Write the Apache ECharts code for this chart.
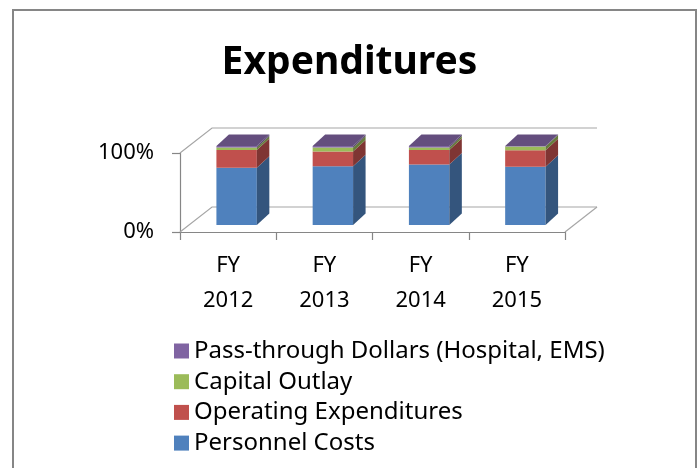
<!DOCTYPE html>
<html>
<head>
<meta charset="utf-8">
<script src="https://cdn.jsdelivr.net/npm/echarts@6/dist/echarts.min.js"></script>
<style>
  html, body { margin: 0; padding: 0; background: #fff; }
  #chart { width: 699px; height: 468px; }
</style>
</head>
<body>
<div id="chart"></div>
<script>
const categories = ['FY\n2012', 'FY\n2013', 'FY\n2014', 'FY\n2015']
const personnelCosts = [72.5, 74.5, 76.5, 73.7]
const operatingExpenditures = [22.4, 18.5, 18.4, 20.8]
const capitalOutlay = [3.1, 5.0, 3.1, 5.0]
const passThroughDollars = [2.0, 2.0, 2.0, 0.5]
const yTicks = [0, 100]

const seriesList = [
  { name: 'Personnel Costs', values: personnelCosts, color: '#4F81BD' },
  { name: 'Operating Expenditures', values: operatingExpenditures, color: '#C0504D' },
  { name: 'Capital Outlay', values: capitalOutlay, color: '#9BBB59' },
  { name: 'Pass-through Dollars (Hospital, EMS)', values: passThroughDollars, color: '#8064A2' }
]

// wall depth, bar placement inside the box, bar depth
const WALL_DX = 32, WALL_DY = -25
const BAR_SHIFT_X = 8.5, BAR_SHIFT_Y = -7
const BAR_DX = 12.5, BAR_DY = -11.5
const FONT = "'Noto Sans', sans-serif"

const shade = (hex, k) => {
  const n = parseInt(hex.slice(1), 16)
  const c = [n >> 16, (n >> 8) & 255, n & 255].map(v => Math.round(v * k))
  return `rgb(${c.join(',')})`
}

const segmentRenderer = (color, isTop) => (params, api) => {
  const i = api.value(0)
  const lo = api.coord([i, api.value(1)])
  const hi = api.coord([i, api.value(2)])
  const bw = api.size([1, 0])[0] * 0.42
  const x0 = lo[0] - bw / 2 + BAR_SHIFT_X
  const x1 = x0 + bw
  const yb = lo[1] + BAR_SHIFT_Y
  const yt = hi[1] + BAR_SHIFT_Y
  const children = [
    { type: 'rect', shape: { x: x0, y: yt, width: bw, height: yb - yt }, style: { fill: color } },
    {
      type: 'polygon',
      shape: { points: [[x1, yt], [x1 + BAR_DX, yt + BAR_DY], [x1 + BAR_DX, yb + BAR_DY], [x1, yb]] },
      style: { fill: shade(color, 0.66) }
    }
  ]
  if (isTop) {
    children.push({
      type: 'polygon',
      shape: { points: [[x0, yt], [x0 + BAR_DX, yt + BAR_DY], [x1 + BAR_DX, yt + BAR_DY], [x1, yt]] },
      style: { fill: shade(color, 0.78) }
    })
  }
  return { type: 'group', children }
}

const wallRenderer = (params, api) => {
  const v = api.value(1)
  const y = api.coord([0, v])[1]
  const cs = params.coordSys
  const children = [{
    type: 'polyline',
    shape: { points: [[cs.x, y], [cs.x + WALL_DX, y + WALL_DY], [cs.x + cs.width + WALL_DX, y + WALL_DY]] },
    style: { stroke: '#A6A6A6', lineWidth: 1.2, fill: null }
  }]
  if (v === 0) {
    children.push({
      type: 'line',
      shape: { x1: cs.x + cs.width, y1: y, x2: cs.x + cs.width + WALL_DX, y2: y + WALL_DY },
      style: { stroke: '#A6A6A6', lineWidth: 1.2 }
    })
  }
  return { type: 'group', children }
}

const stacked = []
const base = categories.map(() => 0)
seriesList.forEach((s, idx) => {
  const data = s.values.map((v, i) => {
    const item = [i, base[i], base[i] + v]
    base[i] += v
    return item
  })
  stacked.push({
    name: s.name,
    type: 'custom',
    clip: false,
    itemStyle: { color: s.color },
    encode: { x: 0, y: [1, 2] },
    renderItem: segmentRenderer(s.color, idx === seriesList.length - 1),
    data
  })
})

const chart = echarts.init(document.getElementById('chart'))
chart.setOption({
  animation: false,
  textStyle: { fontFamily: FONT },
  title: {
    text: 'Expenditures',
    left: 'center',
    top: 43,
    padding: [0, 0, 0, 9],
    textStyle: { fontSize: 39, fontWeight: 'bold', color: '#000', fontFamily: FONT }
  },
  graphic: [{
    type: 'rect',
    shape: { x: 13, y: 10, width: 683, height: 500 },
    style: { fill: null, stroke: '#868686', lineWidth: 2 },
    silent: true
  }],
  grid: { left: 180, right: 134, top: 153, bottom: 236 },
  xAxis: {
    type: 'category',
    data: categories,
    axisLine: { lineStyle: { color: '#868686', width: 1.2 } },
    axisTick: { show: true, length: 8, lineStyle: { color: '#868686', width: 1.2 } },
    axisLabel: { interval: 0, fontSize: 22, lineHeight: 35, margin: 16, color: '#000', fontFamily: FONT }
  },
  yAxis: {
    type: 'value',
    min: 0,
    max: 100,
    interval: 100,
    axisLine: { show: true, lineStyle: { color: '#868686', width: 1.2 } },
    axisTick: { show: true, length: 8, lineStyle: { color: '#868686', width: 1.2 } },
    splitLine: { show: false },
    axisLabel: { formatter: '{value}%', fontSize: 22, margin: 26, padding: [3, 0, 0, 0], color: '#000', fontFamily: FONT }
  },
  legend: {
    orient: 'vertical',
    left: 174,
    top: 339,
    padding: 0,
    icon: 'rect',
    itemWidth: 15,
    itemHeight: 15,
    itemGap: 6.7,
    data: seriesList.map(s => s.name).reverse(),
    textStyle: { fontSize: 24, lineHeight: 24, color: '#000', fontFamily: FONT }
  },
  series: [
    {
      name: 'walls',
      type: 'custom',
      clip: false,
      silent: true,
      encode: { x: 0, y: 1 },
      renderItem: wallRenderer,
      data: yTicks.map(v => [0, v])
    },
    ...stacked
  ]
})
</script>
</body>
</html>
